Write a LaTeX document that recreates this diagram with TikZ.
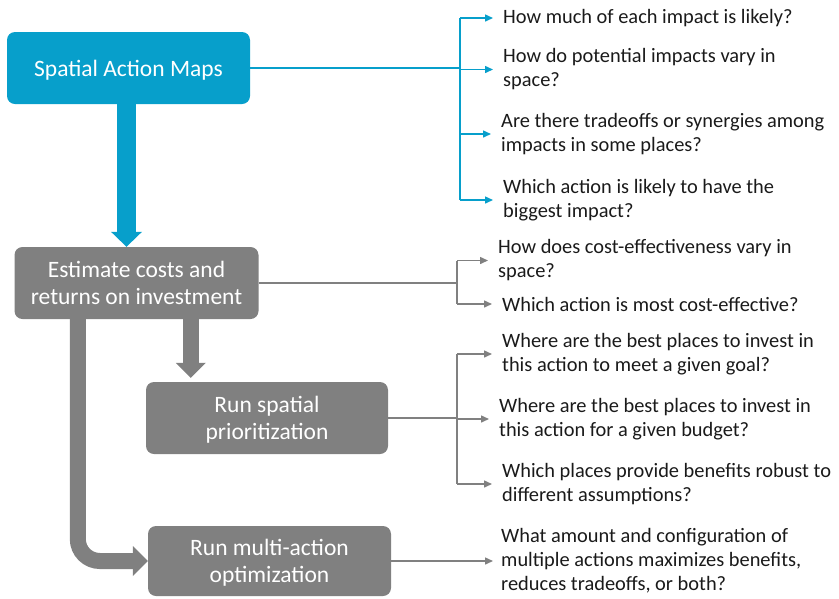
\documentclass[tikz,border=0pt]{standalone}
\usepackage{fontspec}
\setmainfont{Carlito}
\usetikzlibrary{arrows.meta}
\definecolor{sblue}{HTML}{079FCB}
\definecolor{sgray}{HTML}{808080}
\definecolor{qtext}{HTML}{1A1A1A}
\tikzset{
 box/.style={rounded corners=8pt, minimum width=243pt, minimum height=72pt, text=white, align=center, font=\fontsize{23.5}{27}\selectfont, inner sep=0pt, text depth=0pt},
 bluebox/.style={box, fill=sblue},
 graybox/.style={box, fill=sgray},
 qn/.style={anchor=west, align=left, inner sep=0pt, text=qtext, font=\fontsize{20.4}{24}\selectfont},
 conn/.style={line width=1.5pt},
 tipped/.style={-{Triangle[length=8pt,width=7pt]}},
 bigblue/.style={draw=sblue, line width=19pt, -{Triangle[length=15pt,width=31pt,line width=0pt]}},
 biggray/.style={draw=sgray, line width=16pt, -{Triangle[length=15pt,width=30pt,line width=0pt]}},
}
\begin{document}
\begin{tikzpicture}[x=1pt,y=-1pt]
\useasboundingbox (0,0) rectangle (839,598);
% boxes
\node[bluebox] (b0) at (128.5,68) {Spatial Action Maps};
\node[graybox, minimum width=244pt] (b1) at (136.5,283) {Estimate costs and\\returns on investment};
\node[graybox, minimum width=242pt] (b2) at (267,418) {Run spatial\\prioritization};
\node[graybox, minimum height=70pt] (b3) at (269.5,561) {Run multi-action\\optimization};
% questions
\node[qn] (q1) at (503,18) {How much of each impact is likely?};
\node[qn] (q2) at (503,69.5) {How do potential impacts vary in\\space?};
\node[qn] (q3) at (501,134) {Are there tradeoffs or synergies among\\impacts in some places?};
\node[qn] (q4) at (503,200) {Which action is likely to have the\\biggest impact?};
\node[qn] (q5) at (498,260.5) {How does cost-effectiveness vary in\\space?};
\node[qn] (q6) at (502,304) {Which action is most cost-effective?};
\node[qn] (q7) at (502,354) {Where are the best places to invest in\\this action to meet a given goal?};
\node[qn] (q8) at (499,419) {Where are the best places to invest in\\this action for a given budget?};
\node[qn] (q9) at (502,484) {Which places provide benefits robust to\\different assumptions?};
\node[qn] (q10) at (501,561) {What amount and configuration of\\multiple actions maximizes benefits,\\reduces tradeoffs, or both?};
\coordinate (bx1) at (460,0);
\coordinate (bx2) at (457,0);
\coordinate (bx3) at (457,0);
% blue connectors
\begin{scope}[conn, draw=sblue, fill=sblue]
\draw (b0.east) -- (b0.east -| bx1);
\draw (bx1 |- q1.west) -- (bx1 |- q4.west);
\foreach \q in {q1,q2,q3,q4}
  \draw[tipped] (bx1 |- \q.west) -- ([xshift=-10pt]\q.west);
\end{scope}
% gray connectors
\begin{scope}[conn, draw=sgray, fill=sgray]
\draw (b1.east) -- (b1.east -| bx2);
\draw (bx2 |- q5.west) -- (bx2 |- q6.west);
\foreach \q in {q5,q6}
  \draw[tipped] (bx2 |- \q.west) -- ([xshift=-10pt]\q.west);
\draw (b2.east) -- (b2.east -| bx3);
\draw (bx3 |- q7.west) -- (bx3 |- q9.west);
\foreach \q in {q7,q8,q9}
  \draw[tipped] (bx3 |- \q.west) -- ([xshift=-10pt]\q.west);
\draw[tipped] (b3.east) -- ([xshift=-8pt]q10.west |- b3.east);
\end{scope}
% thick arrows
\draw[bigblue] ([xshift=-2pt]b0.south) -- ([xshift=-2pt]b0.south |- b1.north);
\draw[biggray, shorten >=4pt] ([xshift=176.5pt]b1.south west) -- ([xshift=176.5pt]b1.south west |- b2.north);
\draw[biggray, rounded corners=22pt] ([xshift=63.5pt]b1.south west) |- (b3.west);
\end{tikzpicture}
\end{document}
